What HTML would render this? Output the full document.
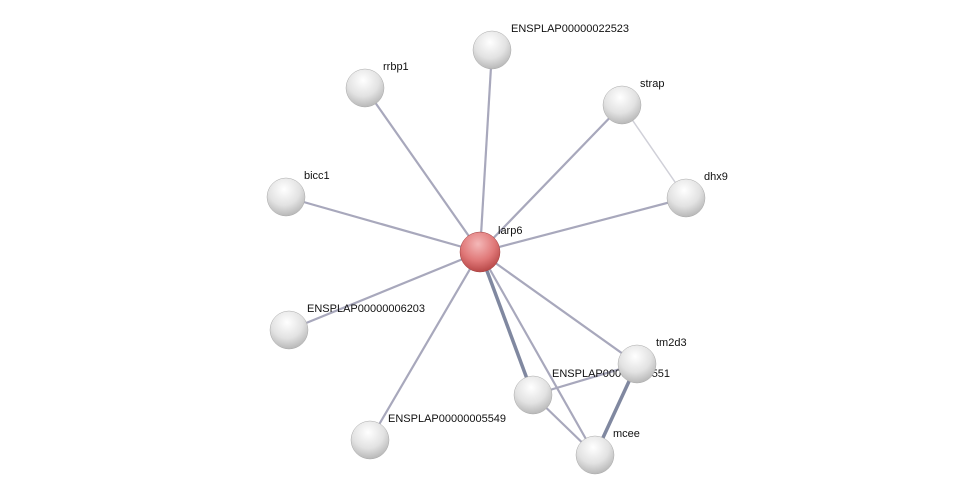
<!DOCTYPE html>
<html><head><style>body{margin:0;background:#fff}svg{display:block}text{font-family:"Liberation Sans",sans-serif;font-size:11px;fill:#111}</style></head>
<body>
<svg width="976" height="500" viewBox="0 0 976 500">
<defs>
<radialGradient id="g" cx="0.45" cy="0.3" r="0.7">
<stop offset="0" stop-color="#ffffff"/><stop offset="0.6" stop-color="#e2e2e2"/><stop offset="1" stop-color="#b8b8b8"/></radialGradient>
<radialGradient id="r" cx="0.45" cy="0.3" r="0.7">
<stop offset="0" stop-color="#f4b8b8"/><stop offset="0.6" stop-color="#e07878"/><stop offset="1" stop-color="#b84848"/></radialGradient>
</defs>
<g stroke="#a8a8bc" stroke-width="2.2">
<line x1="480" y1="252" x2="492" y2="50"/>
<line x1="480" y1="252" x2="365" y2="88"/>
<line x1="480" y1="252" x2="622" y2="105"/>
<line x1="480" y1="252" x2="686" y2="198"/>
<line x1="480" y1="252" x2="286" y2="197"/>
<line x1="480" y1="252" x2="289" y2="330"/>
<line x1="480" y1="252" x2="370" y2="440"/>
<line x1="480" y1="252" x2="637" y2="364"/>
<line x1="480" y1="252" x2="595" y2="455"/>
<line x1="533" y1="395" x2="637" y2="364"/>
<line x1="533" y1="395" x2="595" y2="455"/>
<line x1="622" y1="105" x2="686" y2="198" stroke="#d0d0d8" stroke-width="1.5"/>
<line x1="480" y1="252" x2="533" y2="395" stroke="#8088a0" stroke-width="3.5"/>
<line x1="637" y1="364" x2="595" y2="455" stroke="#8088a0" stroke-width="3.5"/>
</g>
<g fill="url(#g)" stroke="#aaa" stroke-width="0.5">
<circle cx="492" cy="50" r="19"/><circle cx="365" cy="88" r="19"/><circle cx="622" cy="105" r="19"/><circle cx="686" cy="198" r="19"/><circle cx="286" cy="197" r="19"/><circle cx="289" cy="330" r="19"/><circle cx="370" cy="440" r="19"/><circle cx="533" cy="395" r="19"/><circle cx="595" cy="455" r="19"/>
</g>
<text x="552" y="377">ENSPLAP00000013551</text>
<circle cx="637" cy="364" r="19" fill="url(#g)" stroke="#aaa" stroke-width="0.5"/>
<circle cx="480" cy="252" r="20" fill="url(#r)" stroke="#a04040" stroke-width="0.5"/>
<text x="511" y="32">ENSPLAP00000022523</text>
<text x="383" y="70">rrbp1</text>
<text x="640" y="87">strap</text>
<text x="704" y="180">dhx9</text>
<text x="304" y="179">bicc1</text>
<text x="307" y="312">ENSPLAP00000006203</text>
<text x="388" y="422">ENSPLAP00000005549</text>
<text x="656" y="346">tm2d3</text>
<text x="613" y="437">mcee</text>
<text x="498" y="234">larp6</text>
</svg>
</body></html>
